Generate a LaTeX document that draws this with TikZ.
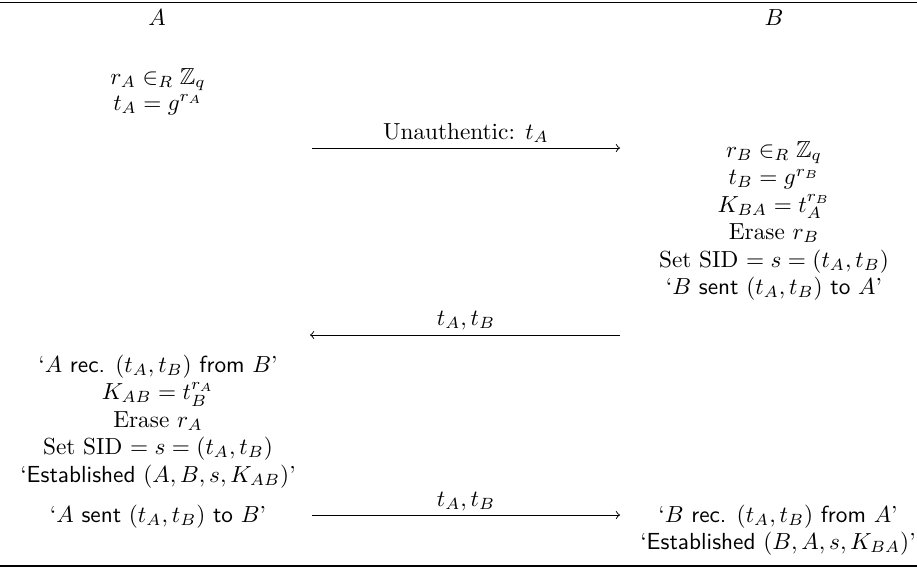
\documentclass[tikz,border=0pt]{standalone}
\usepackage{amssymb}
\begin{document}
\begin{tikzpicture}[x=0.43pt,y=-0.43pt,
  line/.style={inner sep=0pt,outer sep=0pt,anchor=base},
  msg/.style={line width=0.4pt,-to},
  rule/.style={line width=0.8pt}]
\useasboundingbox (0,0) rectangle (917,570);
\coordinate (tl) at (0,2.5); \coordinate (tr) at (917,2.5);
\coordinate (bl) at (0,566); \coordinate (br) at (917,566);
\draw[rule] (tl) -- (tr);
\draw[rule] (bl) -- (br);
% headers
\node[line] (hA) at (157,25) {$A$};
\node[line] (hB) at (774,25) {$B$};
% A first block
\node[line] (a1) at (158,84) {$r_A \in_R \mathbb{Z}_q$};
\node[line] (a2) at (158,110) {$t_A = g^{r_A}$};
% message 1
\coordinate (m1s) at (312,148); \coordinate (m1e) at (620,148);
\draw[msg] (m1s) -- (m1e);
\node[line] (m1l) at (466,139) {Unauthentic: $t_A$};
% B block
\node[line] (b1) at (774,157) {$r_B \in_R \mathbb{Z}_q$};
\node[line] (b2) at (774,184.5) {$t_B = g^{r_B}$};
\node[line] (b3) at (774,212) {$K_{BA} = t_A^{r_B}$};
\node[line] (b4) at (774,239.5) {Erase $r_B$};
\node[line] (b5) at (774,267) {Set SID $= s = (t_A,t_B)$};
\node[line] (b6) at (774,294.5) {`$B$ \textsf{sent} $(t_A,t_B)$ \textsf{to} $A$'};
% message 2
\coordinate (m2s) at (620,335); \coordinate (m2e) at (310,335);
\draw[msg] (m2s) -- (m2e);
\node[line] (m2l) at (466,325) {$t_A,t_B$};
% A second block
\node[line] (a3) at (158,372) {`$A$ \textsf{rec.} $(t_A,t_B)$ \textsf{from} $B$'};
\node[line] (a4) at (158,399.5) {$K_{AB} = t_B^{r_A}$};
\node[line] (a5) at (158,427) {Erase $r_A$};
\node[line] (a6) at (158,454.5) {Set SID $= s = (t_A,t_B)$};
\node[line] (a7) at (158,482) {`\textsf{Established} $(A,B,s,K_{AB})$'};
% last row
\node[line] (a8) at (158,522) {`$A$ \textsf{sent} $(t_A,t_B)$ \textsf{to} $B$'};
\coordinate (m3s) at (312,515); \coordinate (m3e) at (620,515);
\draw[msg] (m3s) -- (m3e);
\node[line] (m3l) at (466,506) {$t_A,t_B$};
\node[line] (b7) at (778,522) {`$B$ \textsf{rec.} $(t_A,t_B)$ \textsf{from} $A$'};
\node[line] (b8) at (778,549) {`\textsf{Established} $(B,A,s,K_{BA})$'};
\end{tikzpicture}
\end{document}
